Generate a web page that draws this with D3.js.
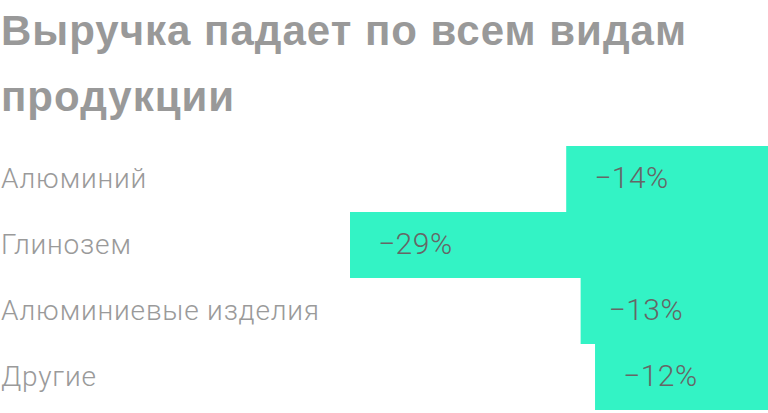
<!DOCTYPE html>
<html>
<head>
<meta charset="utf-8">
<script src="https://cdn.jsdelivr.net/npm/d3@7"></script>
<style>
  body { margin: 0; background: #fff; }
  svg { display: block; }
</style>
</head>
<body>
<div id="chart"></div>
<script>
const titleLines = ["Выручка падает по всем видам", "продукции"]
const categories = ["Алюминий", "Глинозем", "Алюминиевые изделия", "Другие"]
const values = [-14, -29, -13, -12]

const width = 768, height = 413
const margin = ({top: 146, right: 0, bottom: 3, left: 350})

const svg = d3.select("#chart").append("svg")
    .attr("width", width)
    .attr("height", height)

// title
svg.append("g")
    .selectAll("text")
    .data(titleLines)
    .join("text")
    .attr("x", 1)
    .attr("y", (d, i) => 45 + i * 66)
    .attr("font-family", "'Liberation Sans', Arial, sans-serif")
    .attr("font-weight", 700)
    .attr("font-size", 42)
    .attr("letter-spacing", 1)
    .attr("fill", "#999999")
    .text(d => d)

const xScale = d3.scaleLinear()
    .domain([-29, 0])
    .range([margin.left, width - margin.right])

const yScale = d3.scaleBand()
    .domain(categories)
    .range([margin.top, height - margin.bottom])
    .padding(0)

const data = categories.map((c, i) => ({name: c, value: values[i]}))

// bars grow leftwards from zero at the right edge
svg.append("g")
    .selectAll("rect")
    .data(data)
    .join("rect")
    .attr("x", d => xScale(d.value))
    .attr("y", d => yScale(d.name))
    .attr("width", d => xScale(0) - xScale(d.value))
    .attr("height", yScale.bandwidth())
    .attr("fill", "#33f3c5")

// category labels
svg.append("g")
    .selectAll("text")
    .data(data)
    .join("text")
    .attr("x", 1)
    .attr("y", d => yScale(d.name) + yScale.bandwidth() / 2 + 9)
    .attr("font-family", "Roboto, sans-serif")
    .attr("font-weight", 300)
    .attr("font-size", 28)
    .attr("letter-spacing", 0.8)
    .attr("fill", "#9a9a9a")
    .text(d => d.name)

// value labels
svg.append("g")
    .selectAll("text")
    .data(data)
    .join("text")
    .attr("x", d => xScale(d.value) + 28)
    .attr("y", d => yScale(d.name) + yScale.bandwidth() / 2 + 9)
    .attr("font-family", "Roboto, sans-serif")
    .attr("font-weight", 300)
    .attr("font-size", 30)
    .attr("letter-spacing", 0.5)
    .attr("fill", "#666666")
    .text(d => "\u2212" + Math.abs(d.value) + "%")
</script>
</body>
</html>
